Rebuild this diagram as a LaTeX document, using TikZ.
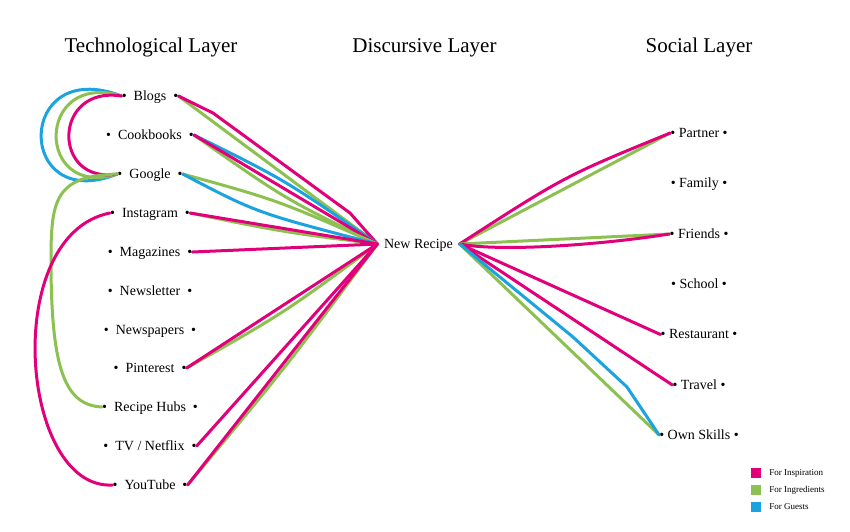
\documentclass[tikz,border=0pt]{standalone}
\usepackage{fontspec}
\setmainfont{Liberation Serif}
\usetikzlibrary{positioning}
\definecolor{inspcol}{HTML}{E2007A}
\definecolor{ingrcol}{HTML}{8CC152}
\definecolor{guescol}{HTML}{1BA3E0}
\begin{document}
\begin{tikzpicture}[x=1pt,y=-1pt,
  layer/.style={anchor=base, inner sep=0pt, font=\fontsize{21}{24}\selectfont},
  item/.style={inner sep=0pt, text height=10pt, text depth=2pt, font=\fontsize{14}{16}\selectfont},
  link/.style={line width=3pt, line cap=round, line join=round},
  insp/.style={link, draw=inspcol},
  ingr/.style={link, draw=ingrcol},
  gues/.style={link, draw=guescol},
  legbox/.style={minimum size=10pt, inner sep=0pt},
  legtext/.style={inner sep=0pt, font=\fontsize{9}{10}\selectfont}]
        \useasboundingbox (0,0) rectangle (850,531);
        % layer titles
        \node[layer] (techtitle) at (151,52) {Technological Layer};
        \node[layer] (disctitle) at (424.5,52) {Discursive Layer};
        \node[layer] (soctitle) at (699,52) {Social Layer};
        % technological layer
        \node[item] (blogs) at (150,96) {\textbullet\enspace Blogs\enspace\textbullet};
        \node[item] (cook) at (150,135) {\textbullet\enspace Cookbooks\enspace\textbullet};
        \node[item] (google) at (150,174) {\textbullet\enspace Google\enspace\textbullet};
        \node[item] (insta) at (150,213) {\textbullet\enspace Instagram\enspace\textbullet};
        \node[item] (maga) at (150,252) {\textbullet\enspace Magazines\enspace\textbullet};
        \node[item] (letter) at (150,291) {\textbullet\enspace Newsletter\enspace\textbullet};
        \node[item] (papers) at (150,330) {\textbullet\enspace Newspapers\enspace\textbullet};
        \node[item] (pint) at (150,368) {\textbullet\enspace Pinterest\enspace\textbullet};
        \node[item] (hubs) at (150,407) {\textbullet\enspace Recipe Hubs\enspace\textbullet};
        \node[item] (tv) at (150,446) {\textbullet\enspace TV / Netflix\enspace\textbullet};
        \node[item] (youtube) at (150,485) {\textbullet\enspace YouTube\enspace\textbullet};
        % discursive layer
        \node[item, inner xsep=6.5pt] (nr) at (418.5,244) {New Recipe};
        % social layer
        \node[item] (partner) at (699,133) {\textbullet\ Partner\ \textbullet};
        \node[item] (family) at (699,183.5) {\textbullet\ Family\ \textbullet};
        \node[item] (friends) at (699,234) {\textbullet\ Friends\ \textbullet};
        \node[item] (school) at (699,284) {\textbullet\ School\ \textbullet};
        \node[item] (rest) at (699,334.5) {\textbullet\ Restaurant\ \textbullet};
        \node[item] (travel) at (699,385) {\textbullet\ Travel\ \textbullet};
        \node[item] (skills) at (699,435) {\textbullet\ Own Skills\ \textbullet};
        % loops on the left
        \draw[gues] (blogs.west) .. controls (15,55) and (15,215) .. (google.west);
        \draw[ingr] (blogs.west) .. controls (35,70) and (35,200) .. (google.west);
        \draw[insp] (blogs.west) .. controls (52,85) and (52,185) .. (google.west);
        \draw[ingr] (google.west) .. controls (55,176) and (51,200) .. (51,260)
              .. controls (51,370) and (65,405) .. (hubs.west);
        \draw[insp] (insta.west) .. controls (0,235) and (20,490) .. (youtube.west);
        % technological to discursive
        \draw[ingr] (blogs.east) -- (nr.west);
        \draw[insp] (blogs.east) -- (213,113) -- (350,213) -- (nr.west);
        \draw[ingr] (cook.east) .. controls (285,199) .. (nr.west);
        \draw[gues] (cook.east) .. controls (285,180) .. (nr.west);
        \draw[insp] (cook.east) -- (nr.west);
        \draw[ingr] (google.east) .. controls (277,200) .. (nr.west);
        \draw[gues] (google.east) .. controls (257,213) .. (nr.west);
        \draw[ingr] (insta.east) .. controls (283,232) .. (nr.west);
        \draw[insp] (insta.east) -- (nr.west);
        \draw[insp] (maga.east) -- (nr.west);
        \draw[ingr] (pint.east) .. controls (284,313) .. (nr.west);
        \draw[insp] (pint.east) -- (nr.west);
        \draw[insp] (tv.east) -- (nr.west);
        \draw[ingr] (youtube.east) .. controls (286,367) .. (nr.west);
        \draw[insp] (youtube.east) -- (nr.west);
        % discursive to social
        \draw[ingr] (nr.east) -- (partner.west);
        \draw[insp] (nr.east) .. controls (565,176) .. (partner.west);
        \draw[ingr] (nr.east) -- (friends.west);
        \draw[insp] (nr.east) .. controls (500,252) and (600,245) .. (friends.west);
        \draw[insp] (nr.east) -- (rest.west);
        \draw[insp] (nr.east) -- (travel.west);
        \draw[ingr] (nr.east) -- (skills.west);
        \draw[gues] (nr.east) -- (573,337) -- (627,387) -- (skills.west);
        % legend
        \node[legbox, fill=inspcol] (leginsp) at (756,473) {};
        \node[legbox, fill=ingrcol] (legingr) at (756,490) {};
        \node[legbox, fill=guescol] (leggues) at (756,507) {};
        \node[legtext, right=8pt of leginsp] (leginsptext) {For Inspiration};
        \node[legtext, right=8pt of legingr] (legingrtext) {For Ingredients};
        \node[legtext, right=8pt of leggues] (leggueste) {For Guests};
\end{tikzpicture}
\end{document}
